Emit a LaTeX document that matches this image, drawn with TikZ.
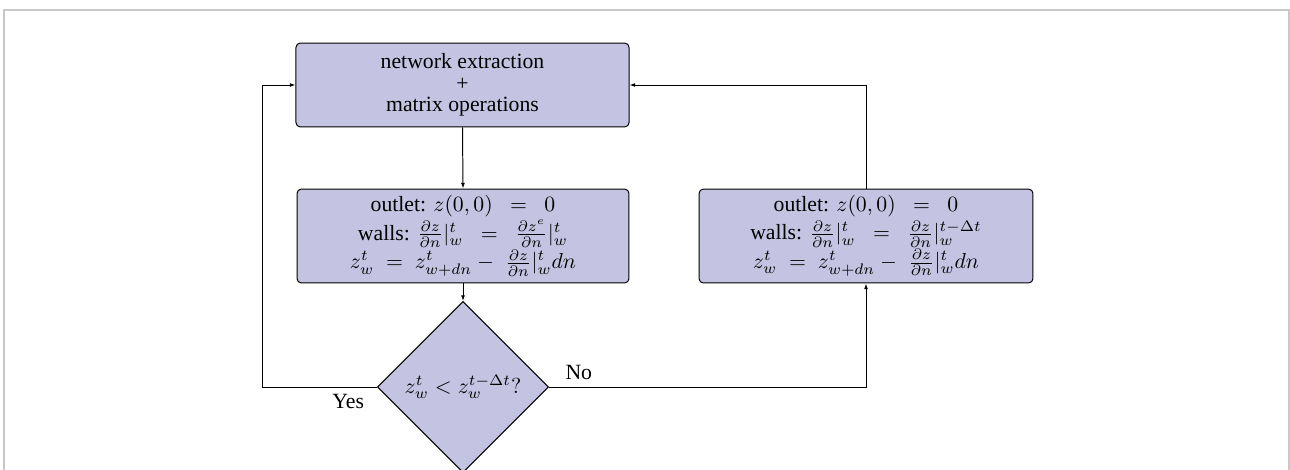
\documentclass[tikz,border=0pt]{standalone}
\usepackage{fontspec}
\setmainfont{Liberation Serif}
\usetikzlibrary{shapes.geometric,arrows.meta}
\definecolor{boxfill}{RGB}{196,196,226}
\definecolor{framegray}{RGB}{200,200,200}
\newcommand{\wideeq}{\hspace{8pt}{=}\hspace{8pt}}
\newcommand{\medeq}{\hspace{5.5pt}{=}\hspace{5.5pt}}
\begin{document}
\begin{tikzpicture}[x=0.46pt,y=-0.46pt,
  procbox/.style={draw, line width=0.45pt, rounded corners=2pt, fill=boxfill, align=center, inner sep=0pt, font=\fontsize{10}{9.8}\selectfont},
  decbox/.style={draw, line width=0.45pt, diamond, fill=boxfill, aspect=1, inner sep=0pt, minimum width=78.7pt, minimum height=78.7pt},
  conn/.style={draw, line width=0.45pt, -{Latex[length=2.6pt,width=1.8pt]}},
  lbl/.style={font=\fontsize{10}{12}\selectfont}]
\useasboundingbox (0,0) rectangle (1290,469);
\draw[framegray, line width=0.7pt] (4,490) -- (4,10) -- (1289,10) -- (1289,490);
\node[procbox, minimum width=153.2pt, minimum height=38.6pt] (ext) at (462.5,85)
  {network extraction\\+\\matrix operations};
\node[procbox, minimum width=152.7pt, minimum height=43.2pt] (bca) at (463,236)
  {outlet: $z(0,0)\wideeq 0$\\[0.5pt]
   walls: $\frac{\partial z}{\partial n}|^t_w \wideeq \frac{\partial z^e}{\partial n}|^t_w$\\
   $z^t_w \medeq z^t_{w+dn} -\hspace{3pt} \frac{\partial z}{\partial n}|^t_w dn$};
\node[procbox, minimum width=153.6pt, minimum height=43.2pt] (bcb) at (866,236)
  {outlet: $z(0,0)\wideeq 0$\\[0.5pt]
   walls: $\frac{\partial z}{\partial n}|^t_w \wideeq \frac{\partial z}{\partial n}|^{t-\Delta t}_w$\\
   $z^t_w \medeq z^t_{w+dn} -\hspace{3pt} \frac{\partial z}{\partial n}|^t_w dn$};
\node[decbox] (dec) at (463,387) {$z^t_w < z^{t-\Delta t}_w?$};
\coordinate (yl) at (262,387);
\coordinate (yt) at (262,85);
\coordinate (nr) at (866,387);
\coordinate (rt) at (866,85);
\path[conn] (ext.south) -- (bca.north);
\path[conn] (bca.south) -- (dec.north);
\path[conn] (dec.west) -- node[lbl, pos=0.25, below] (yes) {Yes} (yl) -- (yt) -- (ext.west);
\path[conn] (dec.east) -- node[lbl, pos=0.094, above] (no) {No} (nr) -- (bcb.south);
\path[conn] (bcb.north) -- (rt) -- (ext.east);
\end{tikzpicture}
\end{document}
